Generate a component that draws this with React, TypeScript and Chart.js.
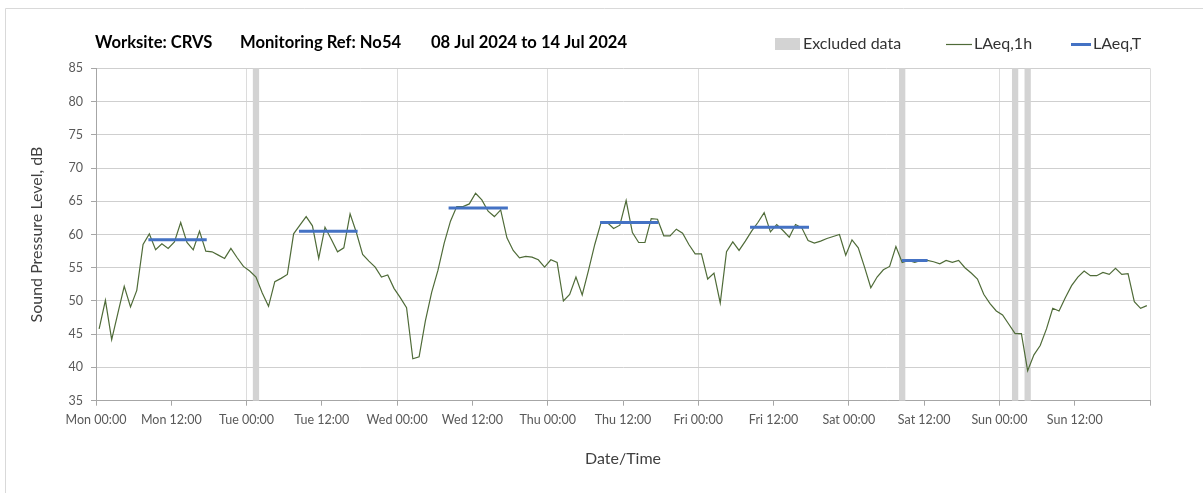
import React, { useEffect, useRef } from 'react';
import { Chart, registerables } from 'chart.js';

Chart.register(...registerables);

const dayNames = ['Mon', 'Tue', 'Wed', 'Thu', 'Fri', 'Sat', 'Sun'];
const halfDayLabels = ['00:00', '12:00'];
const titleParts = ['Worksite: CRVS', 'Monitoring Ref: No54', '08 Jul 2024 to 14 Jul 2024'];
const legendLabels = ['Excluded data', 'LAeq,1h', 'LAeq,T'];
const yAxisTitle = 'Sound Pressure Level, dB';
const xAxisTitle = 'Date/Time';

// hourly LAeq,1h values, Mon 00:00 .. Sun 23:00 (168 hours)
const laeq1h: number[] = [
  45.8, 50.1, 44.2, 48.2, 52.2, 49.1, 51.6, 58.5, 60.1, 57.7, 58.6, 57.9,
  58.9, 61.8, 58.8, 57.7, 60.5, 57.5, 57.4, 56.9, 56.4, 57.9, 56.5, 55.2,
  54.5, 53.6, 51.2, 49.2, 52.9, 53.4, 54.0, 60.1, 61.4, 62.7, 61.3, 56.4,
  61.1, 59.3, 57.4, 58.0, 63.1, 60.3, 57.0, 56.0, 55.1, 53.6, 53.9, 51.9,
  50.5, 49.0, 41.3, 41.6, 47.0, 51.3, 54.6, 58.7, 62.0, 64.2, 64.2, 64.6,
  66.2, 65.2, 63.5, 62.7, 63.7, 59.5, 57.6, 56.5, 56.7, 56.6, 56.2, 55.1,
  56.2, 55.8, 50.0, 51.0, 53.6, 50.9, 54.6, 58.5, 61.8, 61.8, 60.9, 61.4,
  65.1, 60.3, 58.8, 58.8, 62.4, 62.3, 59.8, 59.8, 60.8, 60.2, 58.5, 57.1,
  57.1, 53.3, 54.2, 49.7, 57.4, 58.9, 57.6, 59.0, 60.5, 61.8, 63.3, 60.4,
  61.5, 60.6, 59.6, 61.5, 61.0, 59.1, 58.7, 59.0, 59.4, 59.7, 60.0, 56.9,
  59.2, 58.0, 55.1, 52.0, 53.6, 54.7, 55.2, 58.2, 55.8, 56.1, 55.8, 56.1,
  56.1, 55.9, 55.6, 56.1, 55.8, 56.1, 55.0, 54.2, 53.3, 51.0, 49.6, 48.5,
  47.9, 46.5, 45.1, 45.1, 39.5, 41.9, 43.3, 45.8, 48.9, 48.5, 50.5, 52.3,
  53.6, 54.5, 53.8, 53.8, 54.3, 54.0, 54.9, 54.0, 54.1, 49.9, 48.9, 49.3,
];

// LAeq,T periods (hours from Mon 00:00)
const laeqTStart = [8.35, 32.35, 56.2, 80.35, 104.25, 128.45];
const laeqTEnd = [17.65, 41.7, 65.65, 89.65, 113.65, 132.55];
const laeqTValue = [59.2, 60.5, 64.0, 61.8, 61.1, 56.1];

// excluded hours (hour index from Mon 00:00)
const excludedHours = [25, 128, 146, 148];

const GREEN = '#4f6b38';
const BLUE = '#4472c4';
const GREY_BAR = '#d3d3d3';

const decorPlugin = {
  id: 'decor',
  beforeDatasetsDraw(chart: any) {
    const { ctx, chartArea, scales } = chart;
    const xs = scales.x;
    ctx.save();
    ctx.fillStyle = GREY_BAR;
    excludedHours.forEach((h) => {
      const x0 = xs.getPixelForValue(h);
      const x1 = xs.getPixelForValue(h + 1);
      ctx.fillRect(x0, chartArea.top, x1 - x0, chartArea.bottom - chartArea.top);
    });
    ctx.restore();
  },
  afterDraw(chart: any) {
    const { ctx, chartArea } = chart;
    ctx.save();
    // frame
    ctx.strokeStyle = '#d9d9d9';
    ctx.lineWidth = 1;
    ctx.beginPath();
    ctx.moveTo(5.5, 493);
    ctx.lineTo(5.5, 8.5);
    ctx.lineTo(1203, 8.5);
    ctx.stroke();

    // title
    ctx.fillStyle = '#000000';
    ctx.font = 'bold 16.6px Lato';
    ctx.textBaseline = 'middle';
    ctx.textAlign = 'left';
    const titleX = [chartArea.left - 1, 240, 431];
    titleParts.forEach((t, i) => ctx.fillText(t, titleX[i], 43));

    // legend
    const ly = 44;
    ctx.font = '16px Lato';
    ctx.fillStyle = GREY_BAR;
    ctx.fillRect(775, ly - 6, 25, 12);
    ctx.fillStyle = '#333333';
    ctx.fillText(legendLabels[0], 803, ly);
    ctx.strokeStyle = GREEN;
    ctx.lineWidth = 1.2;
    ctx.beginPath();
    ctx.moveTo(946, ly + 0.5);
    ctx.lineTo(972, ly + 0.5);
    ctx.stroke();
    ctx.fillText(legendLabels[1], 974, ly);
    ctx.strokeStyle = BLUE;
    ctx.lineWidth = 3;
    ctx.beginPath();
    ctx.moveTo(1071, ly + 0.5);
    ctx.lineTo(1091, ly + 0.5);
    ctx.stroke();
    ctx.fillText(legendLabels[2], 1093, ly);
    ctx.restore();
  },
};

export default function App() {
  const ref = useRef<HTMLCanvasElement | null>(null);

  useEffect(() => {
    if (!ref.current) return;
    const lineData = laeq1h.map((v, i) => ({ x: i + 0.5, y: v }));
    const tData: { x: number; y: number | null }[] = [];
    laeqTValue.forEach((v, i) => {
      tData.push({ x: laeqTStart[i], y: v });
      tData.push({ x: laeqTEnd[i], y: v });
      tData.push({ x: laeqTEnd[i] + 0.01, y: null });
    });

    const chart = new Chart(ref.current, {
      type: 'line',
      data: {
        datasets: [
          {
            label: legendLabels[1],
            data: lineData,
            borderColor: GREEN,
            borderWidth: 1.2,
            pointRadius: 0,
            tension: 0,
            order: 2,
          },
          {
            label: legendLabels[2],
            data: tData as any,
            borderColor: BLUE,
            borderWidth: 3,
            pointRadius: 0,
            spanGaps: false,
            order: 1,
          },
        ],
      },
      options: {
        animation: false,
        responsive: false,
        devicePixelRatio: 1,
        events: [],
        layout: { padding: { left: 0, right: 53, top: 68.3, bottom: 0 } },
        plugins: {
          legend: { display: false },
          title: { display: false },
          tooltip: { enabled: false },
        },
        scales: {
          x: {
            type: 'linear',
            min: 0,
            max: 168,
            afterFit: (s: any) => {
              s.height = 92.3;
            },
            ticks: {
              stepSize: 12,
              autoSkip: false,
              maxRotation: 0,
              padding: 7,
              color: '#595959',
              font: { family: 'Lato', size: 12.5 },
              callback: (v: any) => {
                const n = Number(v);
                if (n >= 168) return '';
                return dayNames[Math.floor(n / 24)] + ' ' + halfDayLabels[(n % 24) / 12];
              },
            },
            grid: {
              color: (c: any) => (c.tick && c.tick.value % 24 === 0 ? '#dcdcdc' : 'rgba(0,0,0,0)'),
              tickColor: '#a6a6a6',
              tickLength: 5,
              lineWidth: 1,
            },
            border: { color: '#a6a6a6', width: 1 },
            title: {
              display: true,
              text: xAxisTitle,
              color: '#404040',
              font: { family: 'Lato', size: 16 },
              padding: { top: 0, bottom: 24.4 },
            },
          },
          y: {
            min: 35,
            max: 85,
            afterFit: (s: any) => {
              s.width = 96;
            },
            ticks: {
              stepSize: 5,
              padding: 8,
              color: '#595959',
              font: { family: 'Lato', size: 12.5 },
            },
            grid: {
              color: '#cfcfcf',
              tickColor: '#a6a6a6',
              tickLength: 5,
            },
            border: { color: '#a6a6a6', width: 1 },
            title: {
              display: true,
              text: yAxisTitle,
              color: '#404040',
              font: { family: 'Lato', size: 16 },
              padding: { top: 27.4, bottom: 0 },
            },
          },
        },
      },
      plugins: [decorPlugin],
    });
    return () => chart.destroy();
  }, []);

  return (
    <div style={{ position: 'absolute', left: 0, top: 0, width: 1203, height: 493, background: '#fff' }}>
      <canvas ref={ref} width={1203} height={493} />
    </div>
  );
}
